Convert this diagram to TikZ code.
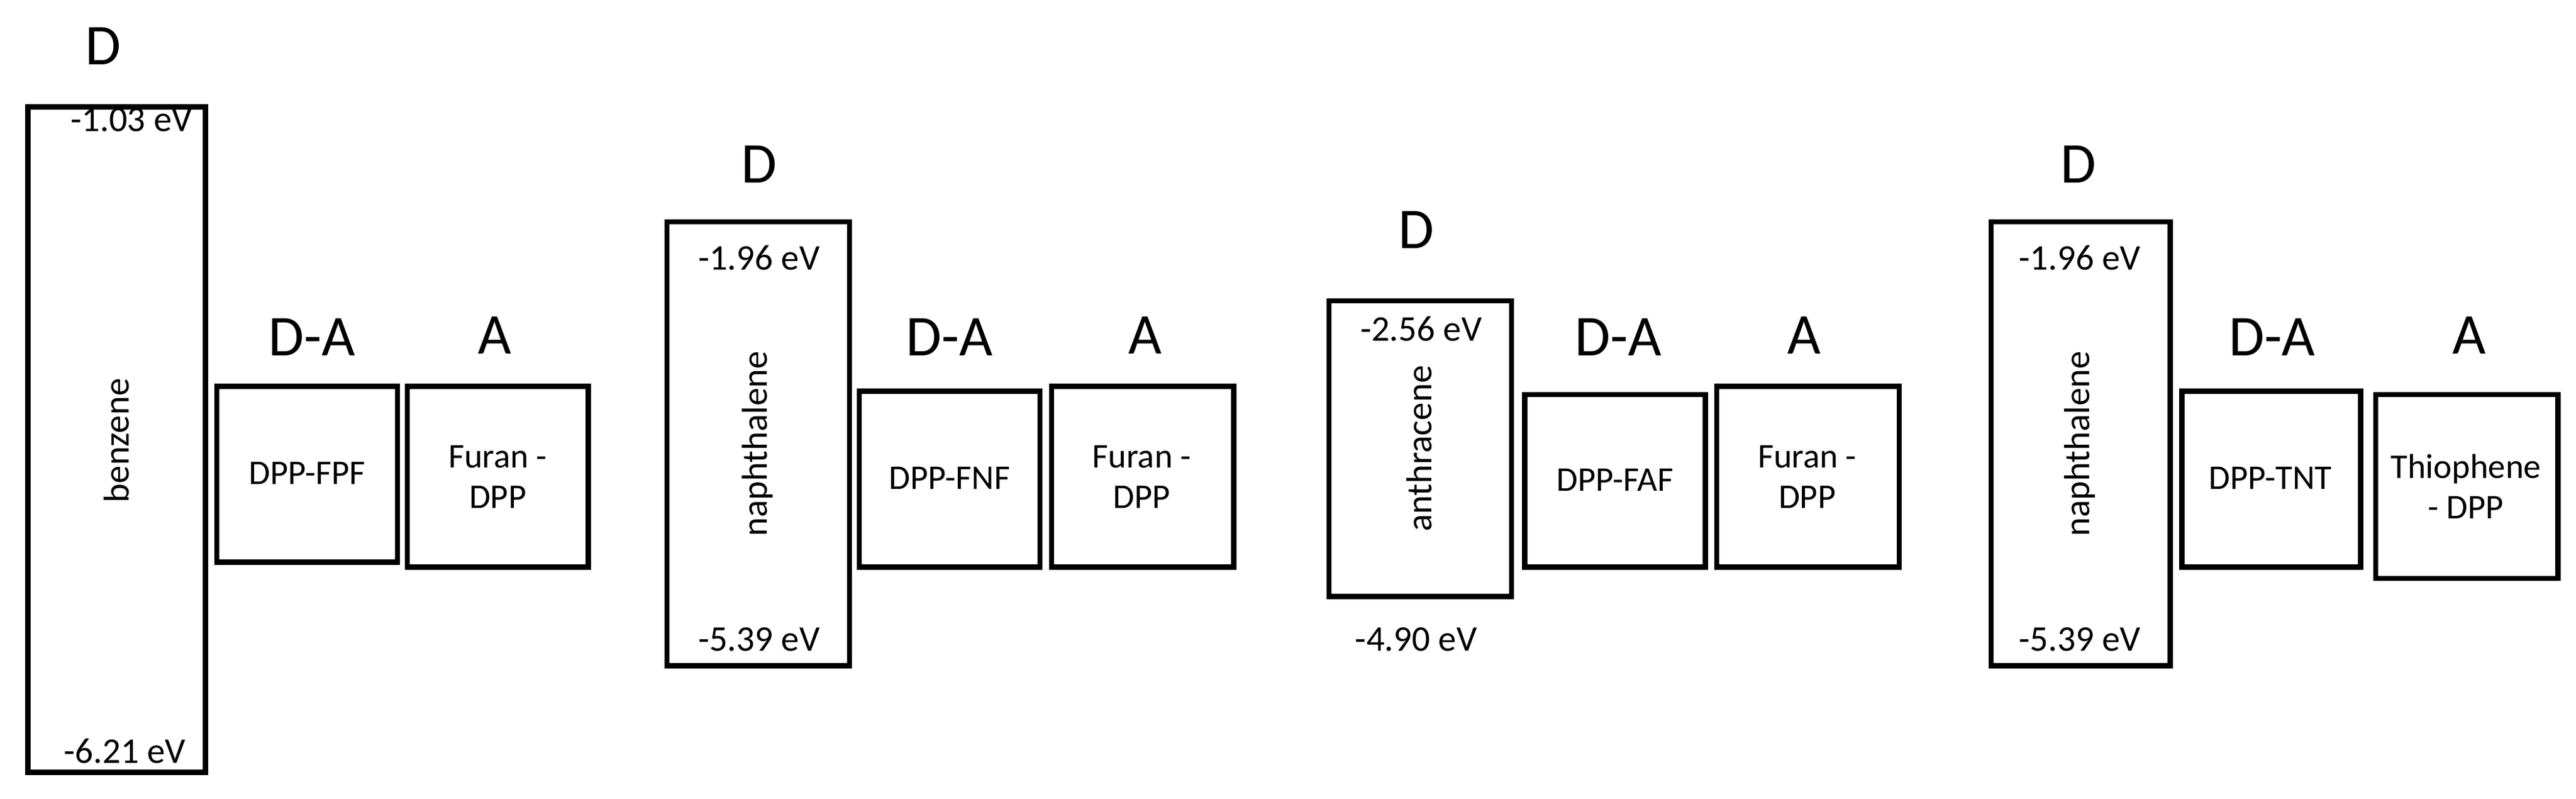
\documentclass[tikz,border=0pt]{standalone}
\usepackage{fontspec}
\setmainfont{Carlito}
\begin{document}
\begin{tikzpicture}[x=0.02cm,y=-0.02cm,
  bx/.style={draw,line width=1.8pt},
  hd/.style={font=\fontsize{20}{24}\selectfont},
  lb/.style={font=\fontsize{12.5}{15}\selectfont},
  lbs/.style={font=\fontsize{12}{14}\selectfont,align=center}]
\useasboundingbox (0,0) rectangle (1568,486);
\newcommand{\bxr}[5]{\draw[bx] (#1,#2) rectangle (#3,#4) node[midway,lbs] (#5) {};}
% group 1
\draw[bx] (17,65) rectangle (125,470);
\node[lb,rotate=90] (b1) at (71,268) {benzene};
\node[hd] (d1) at (63,28) {D};
\node[lb] (t1) at (80,73) {-1.03 eV};
\node[lb] (u1) at (76,457) {-6.21 eV};
\node[hd] (da1) at (190,205) {D-A};
\draw[bx] (132,235) rectangle (242,342);
\node[lbs] (c1) at (187,288) {DPP-FPF};
\node[hd] (a1) at (301,204) {A};
\draw[bx] (248,235) rectangle (358,345);
\node[lbs] (e1) at (303,290) {Furan -\\DPP};
% group 2
\draw[bx] (406,135) rectangle (517,405);
\node[lb,rotate=90] (b2) at (461,270) {naphthalene};
\node[hd] (d2) at (462,100) {D};
\node[lb] (t2) at (462,157) {-1.96 eV};
\node[lb] (u2) at (462,389) {-5.39 eV};
\node[hd] (da2) at (578,205) {D-A};
\draw[bx] (523,238) rectangle (633,345);
\node[lbs] (c2) at (578,291) {DPP-FNF};
\node[hd] (a2) at (697,204) {A};
\draw[bx] (640,235) rectangle (751,345);
\node[lbs] (e2) at (695,290) {Furan -\\DPP};
% group 3
\draw[bx] (809,183) rectangle (920,363);
\node[lb,rotate=90] (b3) at (864,273) {anthracene};
\node[hd] (d3) at (862,140) {D};
\node[lb] (t3) at (865,200) {-2.56 eV};
\node[lb] (u3) at (862,389) {-4.90 eV};
\node[hd] (da3) at (985,205) {D-A};
\draw[bx] (928,240) rectangle (1038,345);
\node[lbs] (c3) at (983,292) {DPP-FAF};
\node[hd] (a3) at (1098,204) {A};
\draw[bx] (1045,235) rectangle (1156,345);
\node[lbs] (e3) at (1100,290) {Furan -\\DPP};
% group 4
\draw[bx] (1212,135) rectangle (1321,405);
\node[lb,rotate=90] (b4) at (1266,270) {naphthalene};
\node[hd] (d4) at (1265,100) {D};
\node[lb] (t4) at (1266,157) {-1.96 eV};
\node[lb] (u4) at (1266,389) {-5.39 eV};
\node[hd] (da4) at (1383,205) {D-A};
\draw[bx] (1328,238) rectangle (1437,345);
\node[lbs] (c4) at (1382,291) {DPP-TNT};
\node[hd] (a4) at (1503,204) {A};
\draw[bx] (1446,240) rectangle (1557,352);
\node[lbs] (e4) at (1501,296) {Thiophene\\- DPP};
\end{tikzpicture}
\end{document}
